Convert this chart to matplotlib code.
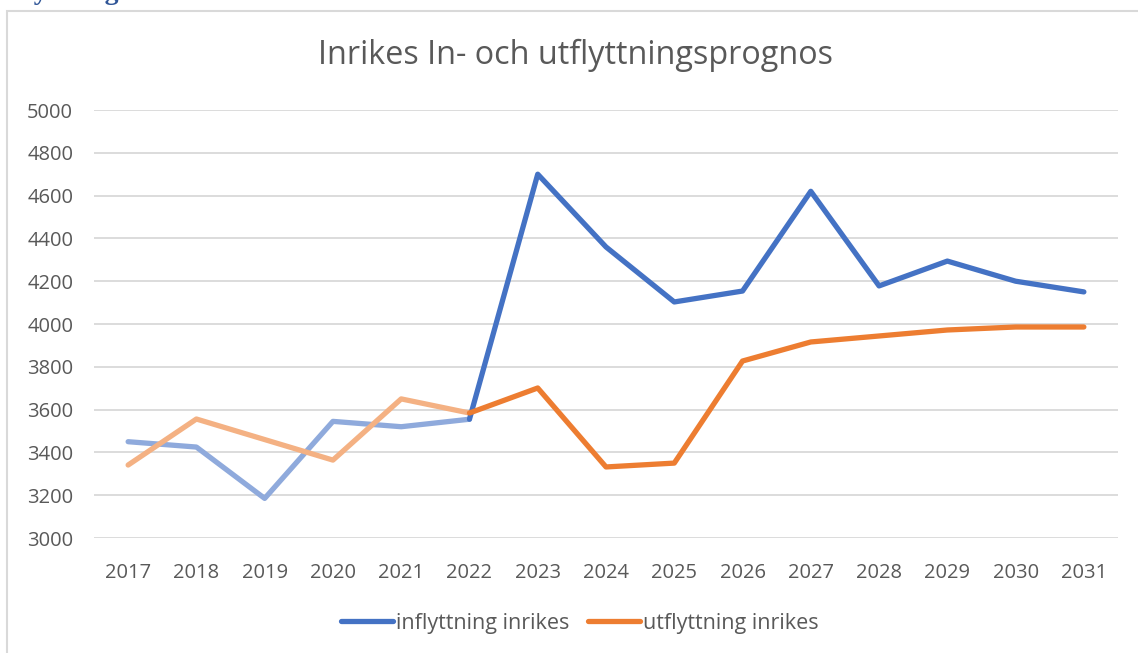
import matplotlib.pyplot as plt
from matplotlib.patches import Rectangle

years = [str(y) for y in range(2017, 2032)]
inflyttning = [3450, 3425, 3185, 3545, 3520, 3555, 4700, 4360, 4103, 4154,
               4620, 4178, 4294, 4200, 4150]
utflyttning = [3341, 3556, 3460, 3364, 3650, 3584, 3701, 3332, 3350, 3827,
               3916, 3944, 3972, 3986, 3986]
hist_end = 5  # index of 2022, last historical year
yticks = list(range(3000, 5001, 200))

blue, blue_light = '#4472C4', '#8FAADC'
orange, orange_light = '#ED7D31', '#F4B183'

plt.rcParams['font.family'] = ['Open Sans', 'DejaVu Sans']

fig = plt.figure(figsize=(11.38, 6.53), dpi=100)
ax = fig.add_axes([94 / 1138, 115 / 653, 1024 / 1138, 428 / 653])

x = list(range(len(years)))
lw = 3.8
# historical parts (lighter)
ax.plot(x[:hist_end + 1], inflyttning[:hist_end + 1], color=blue_light, lw=lw,
        solid_capstyle='round', solid_joinstyle='round')
ax.plot(x[:hist_end + 1], utflyttning[:hist_end + 1], color=orange_light, lw=lw,
        solid_capstyle='round', solid_joinstyle='round')
# forecast parts
ax.plot(x[hist_end:], inflyttning[hist_end:], color=blue, lw=lw,
        solid_capstyle='round', solid_joinstyle='round', label='inflyttning inrikes')
ax.plot(x[hist_end:], utflyttning[hist_end:], color=orange, lw=lw,
        solid_capstyle='round', solid_joinstyle='round', label='utflyttning inrikes')

ax.set_xlim(-0.5, len(years) - 0.5)
ax.set_ylim(3000, 5000)
ax.set_yticks(yticks)
ax.set_xticks(x)
ax.set_xticklabels(years)
ax.grid(axis='y', color='#D9D9D9', lw=1.3)
ax.set_axisbelow(True)
for s in ax.spines.values():
    s.set_visible(False)
ax.tick_params(length=0, labelsize=14.5, colors='#595959')
ax.tick_params(axis='x', pad=18)
ax.tick_params(axis='y', pad=15)

fig.text(576 / 1138, 1 - 55 / 653, 'Inrikes In- och utflyttningsprognos',
         ha='center', va='center', fontsize=23.3, color='#595959')

leg = fig.legend(loc='center', bbox_to_anchor=(580 / 1138, 1 - 623 / 653), ncol=2,
                 frameon=False, fontsize=15.5, handlelength=2.4, handletextpad=0.15,
                 columnspacing=0.85)
for t in leg.get_texts():
    t.set_color('#595959')
for h in leg.get_lines():
    h.set_solid_capstyle('round')

# chart area border, partly outside the image
fig.patches.append(Rectangle((7 / 1138, -0.1), 1.2, 0.1 + (653 - 11) / 653,
                             transform=fig.transFigure, fill=False,
                             edgecolor='#D9D9D9', lw=1.5))
# heading of the page above, cut off at the top
fig.text(10 / 1138, 1 + 1 / 653, 'Flyttning', ha='left', va='baseline',
         fontsize=20, fontweight='bold', color='#2F5597', family='Liberation Serif')

fig.savefig('out.png', dpi=100)
